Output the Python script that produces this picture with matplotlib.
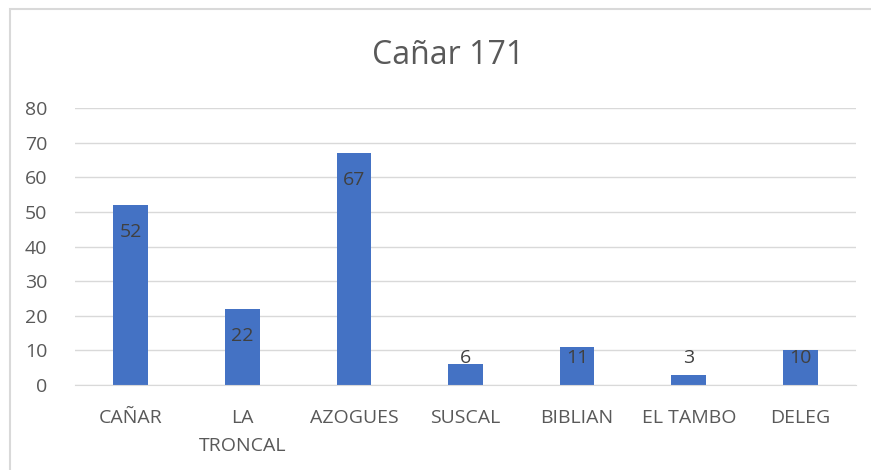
import matplotlib.pyplot as plt
from matplotlib.patches import Rectangle

categories = ["CAÑAR", "LA\nTRONCAL", "AZOGUES", "SUSCAL", "BIBLIAN", "EL TAMBO", "DELEG"]
values = [52, 22, 67, 6, 11, 3, 10]
title = "Cañar 171"

plt.rcParams["font.family"] = ["Open Sans", "DejaVu Sans"]

fig = plt.figure(figsize=(8.71, 4.70), dpi=100)
ax = fig.add_axes([0.086, 0.181, 0.897, 0.589])

x = range(len(categories))
ax.bar(x, values, width=0.31, color="#4472C4", zorder=3)

# data labels: inside the top of the bar, but kept above a floor for short bars
for i, v in enumerate(values):
    ax.text(i, max(v - 7.8, 7.8), str(v), ha="center", va="center",
            fontsize=14, color="#404040", zorder=4)

ax.set_ylim(0, 80)
ax.set_xlim(-0.5, len(categories) - 0.5)
ax.set_yticks(range(0, 81, 10))
ax.set_xticks(list(x))
ax.set_xticklabels(categories, fontsize=14, color="#595959", linespacing=1.75)
ax.tick_params(axis="y", labelsize=14, labelcolor="#595959", length=0, pad=20)
ax.tick_params(axis="x", length=0, pad=17)
ax.grid(axis="y", color="#d9d9d9", linewidth=1, zorder=0)
for s in ["top", "right", "left"]:
    ax.spines[s].set_visible(False)
ax.spines["bottom"].set_color("#d9d9d9")
ax.spines["bottom"].set_zorder(5)

fig.text(0.515, 0.882, title, ha="center", va="center", fontsize=23, color="#595959")

# chart border (only left and top edges fall inside the picture)
fig.patches.append(Rectangle((0.0115, -0.1), 1.2, 1.081, transform=fig.transFigure,
                             fill=False, edgecolor="#d9d9d9", linewidth=1.5))

fig.savefig("out.png", dpi=100)
